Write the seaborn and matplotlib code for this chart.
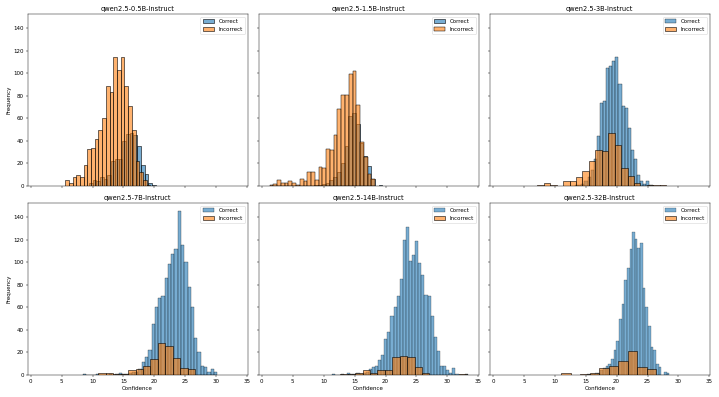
import numpy as np
import pandas as pd
import matplotlib
matplotlib.use("Agg")
import matplotlib.pyplot as plt
import seaborn as sns

titles = ["qwen2.5-0.5B-Instruct", "qwen2.5-1.5B-Instruct", "qwen2.5-3B-Instruct",
          "qwen2.5-7B-Instruct", "qwen2.5-14B-Instruct", "qwen2.5-32B-Instruct"]

# histogram counts, with first bin edge and bin width
c05_start, c05_width = 9.4, 0.6
c05_counts = [3, 5, 4, 8, 6, 10, 22, 24, 24, 40, 46, 47, 45, 35, 19, 11, 3, 1]
i05_start, i05_width = 5.56, 0.6
i05_counts = [5, 3, 8, 10, 8, 19, 33, 34, 42, 50, 60, 89, 83, 114, 103, 114, 89, 71, 50,
              22, 12, 5, 1]

c15_start, c15_width = 8.5, 0.61
c15_counts = [1, 1, 2, 3, 5, 8, 12, 20, 35, 62, 65, 55, 38, 27, 18, 6, 0, 1]
i15_start, i15_width = 1.25, 0.61
i15_counts = [1, 2, 5, 3, 3, 4, 3, 1, 6, 4, 12, 12, 5, 17, 16, 33, 32, 45, 68, 81, 81,
              99, 102, 72, 39, 26, 11, 6]

c3_start, c3_width = 13.3, 0.5
c3_counts = [1, 1, 2, 4, 8, 14, 24, 44, 74, 75, 105, 106, 111, 114, 90, 71, 69, 51, 32,
             24, 10, 4, 2, 4, 1]
i3_start, i3_width = 7.2, 1.04
i3_counts = [1, 3, 1, 0, 4, 4, 8, 13, 22, 32, 31, 47, 36, 16, 9, 3, 0, 1, 1, 1]

c7_start, c7_width = 8.4, 0.53
c7_counts = [1, 0, 0, 0, 1, 0, 0, 0, 1, 0, 1, 2, 1, 1, 2, 3, 3, 5, 11, 16, 22, 45, 60,
             68, 70, 86, 98, 107, 112, 145, 115, 100, 78, 60, 33, 20, 8, 7, 3, 5, 3]
i7_start, i7_width = 10.96, 1.2
i7_counts = [2, 2, 1, 1, 4, 5, 8, 14, 28, 26, 15, 6, 5]

c14_start, c14_width = 11.3, 0.5
c14_counts = [1, 0, 0, 1, 0, 2, 1, 1, 2, 1, 2, 3, 5, 7, 8, 13, 18, 32, 38, 52, 60, 70,
              85, 120, 131, 101, 106, 119, 99, 89, 71, 70, 52, 34, 21, 8, 8, 4, 2, 6, 1,
              0, 0, 1]
i14_start, i14_width = 12.7, 1.2
i14_counts = [1, 1, 2, 4, 2, 4, 4, 16, 17, 16, 7, 2, 0, 0, 0, 0, 1]

c32_start, c32_width = 15.2, 0.43
c32_counts = [1, 1, 1, 2, 2, 4, 6, 8, 10, 14, 22, 30, 50, 63, 84, 95, 112, 127, 121, 113,
              117, 77, 60, 43, 25, 22, 10, 7, 0, 3, 2]
i32_start, i32_width = 11.08, 1.53
i32_counts = [2, 0, 1, 2, 6, 8, 12, 21, 7, 5]

panels = [
    ((c05_start, c05_width, c05_counts), (i05_start, i05_width, i05_counts)),
    ((c15_start, c15_width, c15_counts), (i15_start, i15_width, i15_counts)),
    ((c3_start, c3_width, c3_counts), (i3_start, i3_width, i3_counts)),
    ((c7_start, c7_width, c7_counts), (i7_start, i7_width, i7_counts)),
    ((c14_start, c14_width, c14_counts), (i14_start, i14_width, i14_counts)),
    ((c32_start, c32_width, c32_counts), (i32_start, i32_width, i32_counts)),
]


def draw_hist(ax, spec, color, label):
    start, width, counts = spec
    edges = start + width * np.arange(len(counts) + 1)
    df = pd.DataFrame({"conf": (edges[:-1] + edges[1:]) / 2, "n": counts})
    sns.histplot(data=df, x="conf", weights="n", bins=edges.tolist(), color=color,
                 label=label, alpha=0.6, ax=ax)


fig, axes = plt.subplots(2, 3, figsize=(17.975, 9.925), dpi=40, sharex=True, sharey=True)
for ax, title, (correct, incorrect) in zip(axes.flat, titles, panels):
    draw_hist(ax, correct, "C0", "Correct")
    draw_hist(ax, incorrect, "C1", "Incorrect")
    ax.set_title(title)
    ax.set_xlabel("")
    ax.set_ylabel("")
    ax.legend(loc="upper right")

for ax in axes[:, 0]:
    ax.set_ylabel("Frequency")
for ax in axes[1, :]:
    ax.set_xlabel("Confidence")
axes[0, 0].set_xlim(-0.5, 35.05)
axes[0, 0].set_xticks(range(0, 36, 5))

plt.tight_layout()
plt.savefig("out.png", dpi=40)
